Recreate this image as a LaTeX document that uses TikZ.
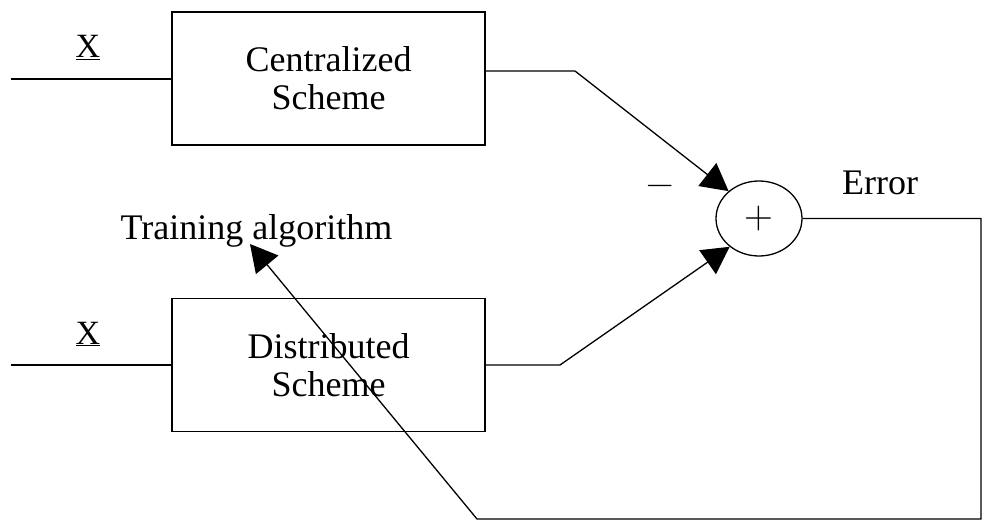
\documentclass[tikz,border=0pt]{standalone}
\usepackage{fontspec}
\setmainfont{Liberation Serif}
\newfontfamily\lmsym{Latin Modern Roman}
\usetikzlibrary{arrows.meta,shapes.geometric}
\begin{document}
\begin{tikzpicture}[x=1pt,y=-1pt,
  every path/.style={line width=1.3pt},
  lbl/.style={font=\fontsize{36}{38}\selectfont, inner sep=0pt},
  xlbl/.style={font=\fontsize{34}{36}\selectfont, inner sep=0pt, anchor=base},
  blk/.style={draw, line width=1.4pt, minimum width=313pt, minimum height=133pt, align=center, font=\fontsize{36}{38}\selectfont},
  sumnode/.style={draw, ellipse, line width=1.3pt, minimum width=86pt, minimum height=75pt, inner sep=0pt, font=\lmsym\fontsize{40}{42}\selectfont},
  arr/.style={-{Triangle[length=27pt,width=29pt]}}
]
\useasboundingbox (0,0) rectangle (986,532);
\fill[white] (0,0) rectangle (986,532);

\node[blk] (cbox) at (328.5,78.5) {Centralized\\Scheme};
\node[blk] (dbox) at (328.5,365) {Distributed\\Scheme};
\node[sumnode] (sum) at (759,218.5) {+};

\coordinate (inA) at (11,79);
\coordinate (inB) at (11,365);
\coordinate (k1) at (575,71);
\coordinate (k2) at (560,365);
\coordinate (k3) at (981,519);
\coordinate (k4) at (477,519);
\coordinate (tipT) at (250,244);

\node[xlbl] (xa) at (88,58) {\underline{X}};
\node[xlbl] (xb) at (88,344) {\underline{X}};
\node[lbl, anchor=base] (train) at (256.5,239) {Training algorithm};
\node[lbl, anchor=base] (err) at (880,194) {Error};
\node[inner sep=0pt, anchor=north, font=\lmsym\fontsize{38}{40}\selectfont] (minus) at (660,184.5) {−};

\draw (inA) -- (cbox.west |- inA);
\draw (inB) -- (dbox.west);
\draw[arr] (cbox.east |- k1) -- (k1) -- (sum.138);
\draw[arr] (dbox.east) -- (k2) -- (sum.224);
\draw[arr] (sum.east) -| (k3) -- (k4) -- (tipT);
\end{tikzpicture}
\end{document}
